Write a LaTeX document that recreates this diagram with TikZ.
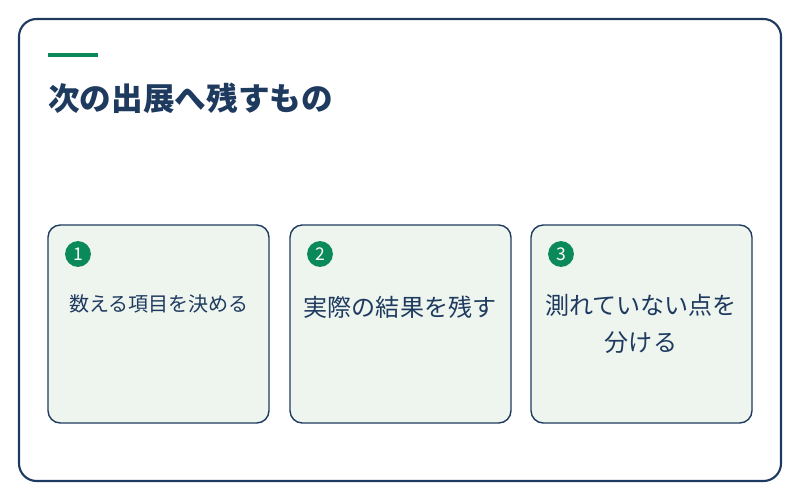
\documentclass[tikz,border=0pt]{standalone}
\usepackage{fontspec}
\setmainfont{Noto Sans CJK JP}
\usetikzlibrary{positioning}
\definecolor{navy}{HTML}{1F3A5F}
\definecolor{accent}{HTML}{0A8A5A}
\definecolor{cardbg}{HTML}{EEF5EF}

\begin{document}
\begin{tikzpicture}[x=0.02cm,y=-0.02cm,
  card/.style={draw=navy,line width=0.8pt,fill=cardbg,rounded corners=7pt},
  badge/.style={circle,fill=accent,text=white,minimum size=14.7pt,inner sep=0pt,font=\fontsize{10}{10}\selectfont},
  label/.style={text=navy,align=center,font=\fontsize{13.7}{21.5}\selectfont}]
\useasboundingbox (0,0) rectangle (800,500);
% frame
\draw [navy,line width=1.2pt,rounded corners=10pt] (19,19) rectangle (781,481);
\fill [accent] (48,53) rectangle (98,57);
\node (title) [anchor=base west,inner sep=0pt,text=navy,font=\fontsize{18}{20}\bfseries\selectfont] at (48,111) {次の出展へ残すもの};
% cards
\draw [card] (48,225) rectangle (269,423);
\draw [card] (290,225) rectangle (511,423);
\draw [card] (531,225) rectangle (752,423);
\node (b1) [badge] at (78,254) {1};
\node (b2) [badge] at (320,254) {2};
\node (b3) [badge] at (561,254) {3};
\node (t1) [label,font=\fontsize{11.4}{16}\selectfont] at (159,304) {数える項目を決める};
\node (t2) [label] at (400,307) {実際の結果を残す};
\node (t3) [label] at (641,324) {測れていない点を\\分ける};
\end{tikzpicture}
\end{document}
